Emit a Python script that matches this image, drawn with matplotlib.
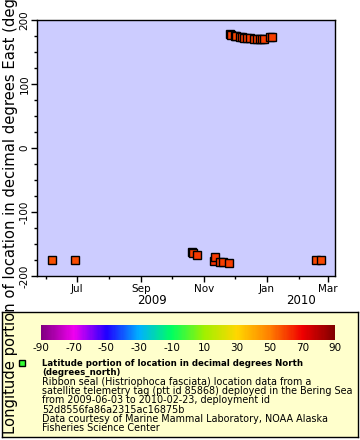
import datetime as dt
import matplotlib
matplotlib.use("Agg")
import matplotlib.pyplot as plt
import matplotlib.dates as mdates
from matplotlib.colors import LinearSegmentedColormap, Normalize
from matplotlib.colorbar import ColorbarBase
from matplotlib.lines import Line2D
from matplotlib.ticker import MultipleLocator
import matplotlib.transforms as mtransforms

plt.rcParams["axes.unicode_minus"] = False

# Daten
dates = [
    "2009-06-07", "2009-06-29",
    "2009-10-20", "2009-10-21", "2009-10-25",
    "2009-11-11", "2009-11-12", "2009-11-16", "2009-11-19", "2009-11-25",
    "2009-11-26", "2009-11-27", "2009-12-01", "2009-12-02", "2009-12-06",
    "2009-12-08", "2009-12-10", "2009-12-13", "2009-12-16", "2009-12-19",
    "2009-12-22", "2009-12-25", "2009-12-27", "2009-12-29", "2010-01-04",
    "2010-01-06",
    "2010-02-18", "2010-02-22",
]
lon = [
    -175, -175,
    -163, -164, -167,
    -176, -170, -178, -178, -180,
    178, 177, 175, 175, 173,
    173, 172, 172, 172, 171,
    171, 170, 171, 170, 174,
    173,
    -175, -175,
]
lat = [
    57, 58,
    60, 60, 61,
    62, 61, 60, 60, 60,
    60, 60, 60, 59, 60,
    60, 60, 60, 60, 60,
    60, 60, 60, 60, 60,
    60,
    59, 59,
]

cbar_ticks = [-90, -70, -50, -30, -10, 10, 30, 50, 70, 90]
palette = ["#800080", "#f000f0", "#2000ff", "#00b0ff", "#00ff60",
           "#a0f000", "#ffd700", "#ff8000", "#f00000", "#800000"]

legend_lines = [
    "Ribbon seal (Histriophoca fasciata) location data from a",
    "satellite telemetry tag (ptt id 85868) deployed in the Bering Sea",
    "from 2009-06-03 to 2010-02-23, deployment id",
    "52d8556fa86a2315ac16875b",
    "Data courtesy of Marine Mammal Laboratory, NOAA Alaska",
    "Fisheries Science Center",
]

W, H = 360, 440
fig = plt.figure(figsize=(W / 100, H / 100), dpi=100)
fig.patch.set_facecolor("white")

cmap = LinearSegmentedColormap.from_list("rainbow_erddap", palette)
norm = Normalize(-90, 90)

# Legendenkasten (Hintergrund-Achse, damit er unter der Farbskala liegt)
bg = fig.add_axes([2 / W, 3 / H, 356 / W, 125 / H], zorder=-5)
bg.set_facecolor("#ffffcc")
bg.set_xticks([])
bg.set_yticks([])
for sp in bg.spines.values():
    sp.set_linewidth(1)

# Hauptdiagramm
ax = fig.add_axes([37 / W, 1 - 276 / H, 298 / W, 256 / H])
ax.set_facecolor("#ccccff")
x = [dt.datetime.strptime(d, "%Y-%m-%d") for d in dates]
for xi, yi, la in zip(x, lon, lat):
    ax.plot(xi, yi, marker="s", markersize=5.2, markerfacecolor=cmap(norm(la)),
            markeredgecolor="black", markeredgewidth=1.0, linestyle="none")

x0 = dt.datetime(2009, 5, 23)
x1 = dt.datetime(2010, 3, 8)
ax.set_xlim(x0, x1)
ax.set_ylim(-200, 200)

ax.xaxis.set_major_locator(mdates.MonthLocator(bymonth=[1, 3, 5, 7, 9, 11]))
ax.xaxis.set_minor_locator(mdates.MonthLocator())
ax.xaxis.set_major_formatter(mdates.DateFormatter("%b"))
ax.yaxis.set_major_locator(MultipleLocator(100))
ax.yaxis.set_minor_locator(MultipleLocator(25))
ax.tick_params(axis="both", which="major", direction="out", length=4, width=1,
               labelsize=7.5, pad=1.5)
ax.tick_params(axis="both", which="minor", direction="out", length=2.5, width=1)
for lbl in ax.get_yticklabels():
    lbl.set_rotation(90)
    lbl.set_va("center")
for sp in ax.spines.values():
    sp.set_linewidth(1)

# Jahreswechsel-Tick dicker
for tk in ax.xaxis.get_major_ticks():
    if tk.get_loc() == mdates.date2num(dt.datetime(2010, 1, 1)):
        tk.tick1line.set_markeredgewidth(3)

# Jahresbeschriftungen
trans = mtransforms.blended_transform_factory(ax.transData, fig.transFigure)
y_end = dt.datetime(2010, 1, 1)
ax.text(x0 + (y_end - x0) / 2, 1 - 301 / H, "2009", transform=trans,
        ha="center", va="center", fontsize=8.5)
ax.text(y_end + (x1 - y_end) / 2, 1 - 301 / H, "2010", transform=trans,
        ha="center", va="center", fontsize=8.5)

fig.text(10.5 / W, 1 - 434 / H,
         "Longitude portion of location in decimal degrees East (degrees_east)",
         rotation=90, ha="center", va="bottom", fontsize=10.6, zorder=5)

cax = fig.add_axes([41 / W, 1 - 340 / H, 294 / W, 15 / H])
cb = ColorbarBase(cax, cmap=cmap, norm=norm, orientation="horizontal",
                  ticks=cbar_ticks)
cb.outline.set_visible(False)
cax.tick_params(length=0, labelsize=7.5, pad=2)

fig.add_artist(Line2D([22 / W], [1 - 363 / H], marker="s", markersize=5,
                      markerfacecolor="#33ff33", markeredgecolor="black",
                      markeredgewidth=1, transform=fig.transFigure))
fig.text(42 / W, 1 - 363 / H,
         "Latitude portion of location in decimal degrees North",
         fontsize=6.2, fontweight="bold", ha="left", va="center")
fig.text(42 / W, 1 - 372.5 / H, "(degrees_north)",
         fontsize=6.2, fontweight="bold", ha="left", va="center")
for i, line in enumerate(legend_lines):
    fig.text(42 / W, 1 - (382 + 9.2 * i) / H, line,
             fontsize=6.9, ha="left", va="center")

fig.savefig("out.png", dpi=100)
